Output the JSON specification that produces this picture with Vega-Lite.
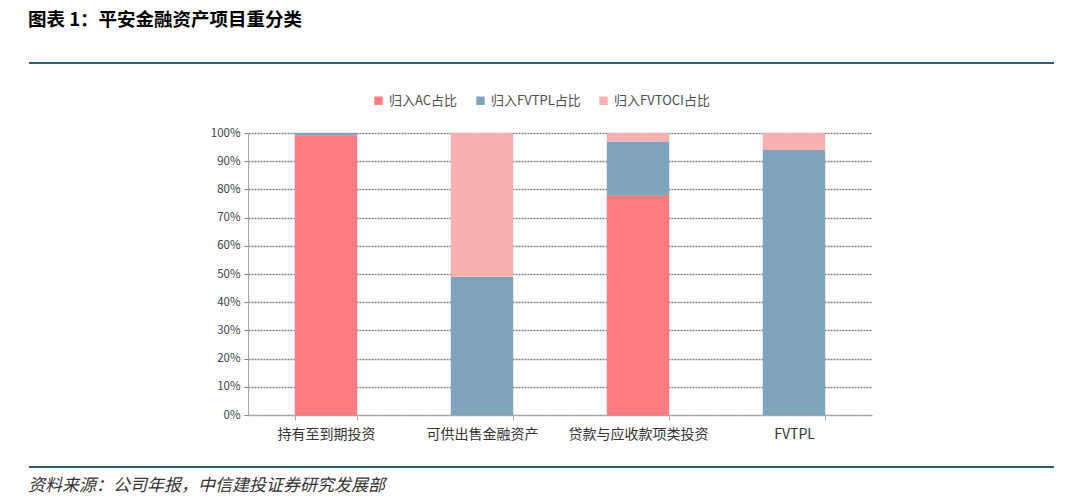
{
  "$schema": "https://vega.github.io/schema/vega-lite/v6.json",
  "padding": {"left": 28, "top": 10, "right": 27, "bottom": 5},
  "background": "white",
  "spacing": 25,
  "config": {
    "font": "Noto Sans CJK SC",
    "view": {"stroke": null}
  },
  "vconcat": [
    {
      "width": 1025,
      "height": 6,
      "title": {"text": "图表 1：平安金融资产项目重分类", "anchor": "start", "fontSize": 18.5, "fontWeight": "bold", "font": "Noto Sans CJK SC", "color": "#000000", "offset": 33},
      "data": {"values": [{}]},
      "mark": {"type": "rule", "color": "#22607E", "strokeWidth": 2},
      "encoding": {"y": {"datum": 1, "type": "quantitative", "scale": {"domain": [0, 1]}, "axis": null}}
    },
    {
      "spacing": 0,
      "resolve": {"legend": {"color": "independent"}},
      "hconcat": [
        {
          "width": 181,
          "height": 282,
          "data": {"values": [{}]},
          "mark": {"type": "text"},
          "encoding": {"text": {"value": ""}}
        },
        {
          "width": 624,
          "height": 282,
          "data": {"values": [
            {"类别": "持有至到期投资", "系列": "归入AC占比", "占比": 0.99, "序": 1},
            {"类别": "持有至到期投资", "系列": "归入FVTPL占比", "占比": 0.01, "序": 2},
            {"类别": "持有至到期投资", "系列": "归入FVTOCI占比", "占比": 0.0, "序": 3},
            {"类别": "可供出售金融资产", "系列": "归入AC占比", "占比": 0.0, "序": 1},
            {"类别": "可供出售金融资产", "系列": "归入FVTPL占比", "占比": 0.49, "序": 2},
            {"类别": "可供出售金融资产", "系列": "归入FVTOCI占比", "占比": 0.51, "序": 3},
            {"类别": "贷款与应收款项类投资", "系列": "归入AC占比", "占比": 0.78, "序": 1},
            {"类别": "贷款与应收款项类投资", "系列": "归入FVTPL占比", "占比": 0.19, "序": 2},
            {"类别": "贷款与应收款项类投资", "系列": "归入FVTOCI占比", "占比": 0.03, "序": 3},
            {"类别": "FVTPL", "系列": "归入AC占比", "占比": 0.0, "序": 1},
            {"类别": "FVTPL", "系列": "归入FVTPL占比", "占比": 0.94, "序": 2},
            {"类别": "FVTPL", "系列": "归入FVTOCI占比", "占比": 0.06, "序": 3}
          ]},
          "mark": {"type": "bar"},
          "encoding": {
            "x": {
              "field": "类别", "type": "nominal",
              "sort": ["持有至到期投资", "可供出售金融资产", "贷款与应收款项类投资", "FVTPL"],
              "scale": {"paddingInner": 0.6, "paddingOuter": 0.3},
              "axis": {"title": null, "labelAngle": 0, "labelFontSize": 14, "labelColor": "#333333", "tickBand": "extent", "domainColor": "#a6a6a6", "tickColor": "#a6a6a6", "tickSize": 5, "labelPadding": 7, "grid": false}
            },
            "y": {
              "field": "占比", "type": "quantitative", "stack": "zero",
              "scale": {"domain": [0, 1], "nice": false},
              "axis": {"title": null, "format": ".0%", "values": [0, 0.1, 0.2, 0.3, 0.4, 0.5, 0.6, 0.7, 0.8, 0.9, 1.0], "labelFontSize": 11.5, "labelColor": "#404040", "domainColor": "#a6a6a6", "tickColor": "#808080", "tickSize": 4, "labelPadding": 4, "grid": true, "gridColor": "#7f7f7f", "gridDash": [2, 1], "gridWidth": 1.5}
            },
            "color": {
              "field": "系列", "type": "nominal",
              "scale": {"domain": ["归入AC占比", "归入FVTPL占比", "归入FVTOCI占比"], "range": ["#FF7C80", "#7FA4BE", "#FAAFB1"]},
              "legend": {"title": null, "orient": "none", "legendX": 124, "legendY": -39, "direction": "horizontal", "symbolType": "square", "symbolSize": 70, "symbolStrokeWidth": 0, "labelFontSize": 13, "labelColor": "#4d4d4d", "columnPadding": 16}
            },
            "order": {"field": "序", "type": "quantitative"}
          }
        }
      ]
    },
    {
      "width": 1025,
      "height": 1,
      "title": {"text": "资料来源：公司年报，中信建投证券研究发展部", "orient": "bottom", "anchor": "start", "fontSize": 17, "fontStyle": "italic", "fontWeight": "normal", "font": "Noto Sans CJK SC", "color": "#333333", "offset": 10},
      "data": {"values": [{}]},
      "mark": {"type": "rule", "color": "#22607E", "strokeWidth": 2},
      "encoding": {"y": {"datum": 0, "type": "quantitative", "scale": {"domain": [0, 1]}, "axis": null}}
    }
  ]
}
